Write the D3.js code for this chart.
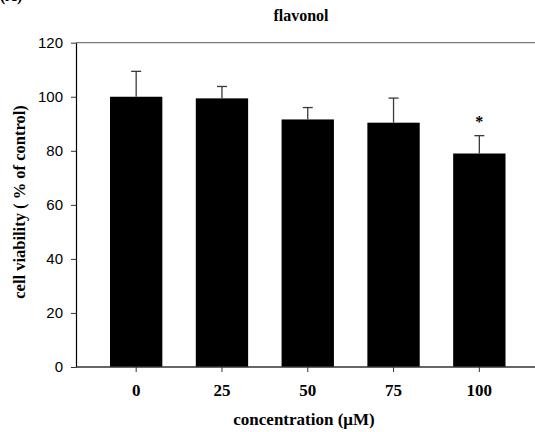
<!DOCTYPE html>
<html>
<head>
<meta charset="utf-8">
<script src="https://cdn.jsdelivr.net/npm/d3@7"></script>
<style>
  html, body { margin: 0; padding: 0; background: #fff; }
  svg { display: block; }
  .serif { font-family: "Liberation Serif", "Times New Roman", Times, serif; font-weight: bold; }
  .sans { font-family: "Liberation Sans", Arial, Helvetica, sans-serif; }
</style>
</head>
<body>
<svg id="chart" width="535" height="432"></svg>
<script>
// Cell viability after flavonol treatment (mean ± SD, % of control)
const concentrations = ["0", "25", "50", "75", "100"];
const viability = [100, 99.4, 91.6, 90.4, 79.0];
const errorSD = [9.4, 4.4, 4.4, 9.1, 6.6];
const significant = [false, false, false, false, true];
const yTicks = [0, 20, 40, 60, 80, 100, 120];

const svg = d3.select("#chart");

const plot = { left: 76, right: 535, top: 42.7, bottom: 367 };

const x = d3.scaleBand()
  .domain(concentrations)
  .range([110, 505.5])
  .paddingInner(0.39)
  .paddingOuter(0);

const y = d3.scaleLinear()
  .domain([0, 120])
  .range([plot.bottom, plot.top]);

// panel letter, clipped by the top edge
svg.append("text")
  .attr("class", "serif")
  .attr("x", 0).attr("y", 1)
  .attr("font-size", 16)
  .text("(A)");

// title
svg.append("text")
  .attr("class", "serif")
  .attr("x", 301).attr("y", 21)
  .attr("text-anchor", "middle")
  .attr("font-size", 16)
  .text("flavonol");

// top frame line
svg.append("line")
  .attr("x1", plot.left).attr("x2", plot.right)
  .attr("y1", y(120)).attr("y2", y(120))
  .attr("stroke", "#7a7a7a").attr("stroke-width", 1.2);

// bars
svg.append("g").selectAll("rect")
  .data(concentrations)
  .join("rect")
  .attr("x", d => x(d))
  .attr("width", x.bandwidth())
  .attr("y", (d, i) => y(viability[i]))
  .attr("height", (d, i) => y(0) - y(viability[i]))
  .attr("fill", "#000");

// error bars (upper half only)
const capHalf = 5;
const eb = svg.append("g").attr("stroke", "#3a3a3a").attr("stroke-width", 1.3);
concentrations.forEach((c, i) => {
  const cx = x(c) + x.bandwidth() / 2;
  eb.append("line")
    .attr("x1", cx).attr("x2", cx)
    .attr("y1", y(viability[i])).attr("y2", y(viability[i] + errorSD[i]));
  eb.append("line")
    .attr("x1", cx - capHalf).attr("x2", cx + capHalf)
    .attr("y1", y(viability[i] + errorSD[i])).attr("y2", y(viability[i] + errorSD[i]));
});

// significance marks
svg.append("g").selectAll("text")
  .data(concentrations.filter((c, i) => significant[i]))
  .join("text")
  .attr("class", "serif")
  .attr("x", d => x(d) + x.bandwidth() / 2)
  .attr("y", d => {
    const i = concentrations.indexOf(d);
    return y(viability[i] + errorSD[i]) - 9;
  })
  .attr("text-anchor", "middle")
  .attr("font-size", 16)
  .text("*");

// y axis
const yAxis = svg.append("g")
  .attr("transform", `translate(${plot.left},0)`)
  .call(d3.axisLeft(y).tickValues(yTicks).tickSize(5).tickPadding(8).tickSizeOuter(0));
yAxis.attr("font-family", null).attr("font-size", null);
yAxis.select(".domain").attr("stroke", "#000").attr("stroke-width", 1.2);
yAxis.selectAll(".tick line").attr("stroke", "#333");
yAxis.selectAll(".tick text")
  .attr("class", "sans").attr("font-size", 15).attr("fill", "#000");

// x axis
const xAxis = svg.append("g")
  .attr("transform", `translate(0,${plot.bottom})`)
  .call(d3.axisBottom(x).tickSize(5).tickPadding(12).tickSizeOuter(0));
xAxis.attr("font-family", null).attr("font-size", null);
xAxis.select(".domain").remove();
xAxis.append("line")
  .attr("x1", plot.left).attr("x2", plot.right)
  .attr("stroke", "#333").attr("stroke-width", 1.3);
xAxis.selectAll(".tick line").attr("stroke", "#333");
xAxis.selectAll(".tick text")
  .attr("class", "serif").attr("font-size", 17).attr("fill", "#000");

// axis titles
svg.append("text")
  .attr("class", "serif")
  .attr("x", 304).attr("y", 425)
  .attr("text-anchor", "middle")
  .attr("font-size", 17)
  .text("concentration (μM)");

svg.append("text")
  .attr("class", "serif")
  .attr("transform", "translate(25,202) rotate(-90)")
  .attr("text-anchor", "middle")
  .attr("font-size", 16.5)
  .text("cell viability ( % of control)");
</script>
</body>
</html>
